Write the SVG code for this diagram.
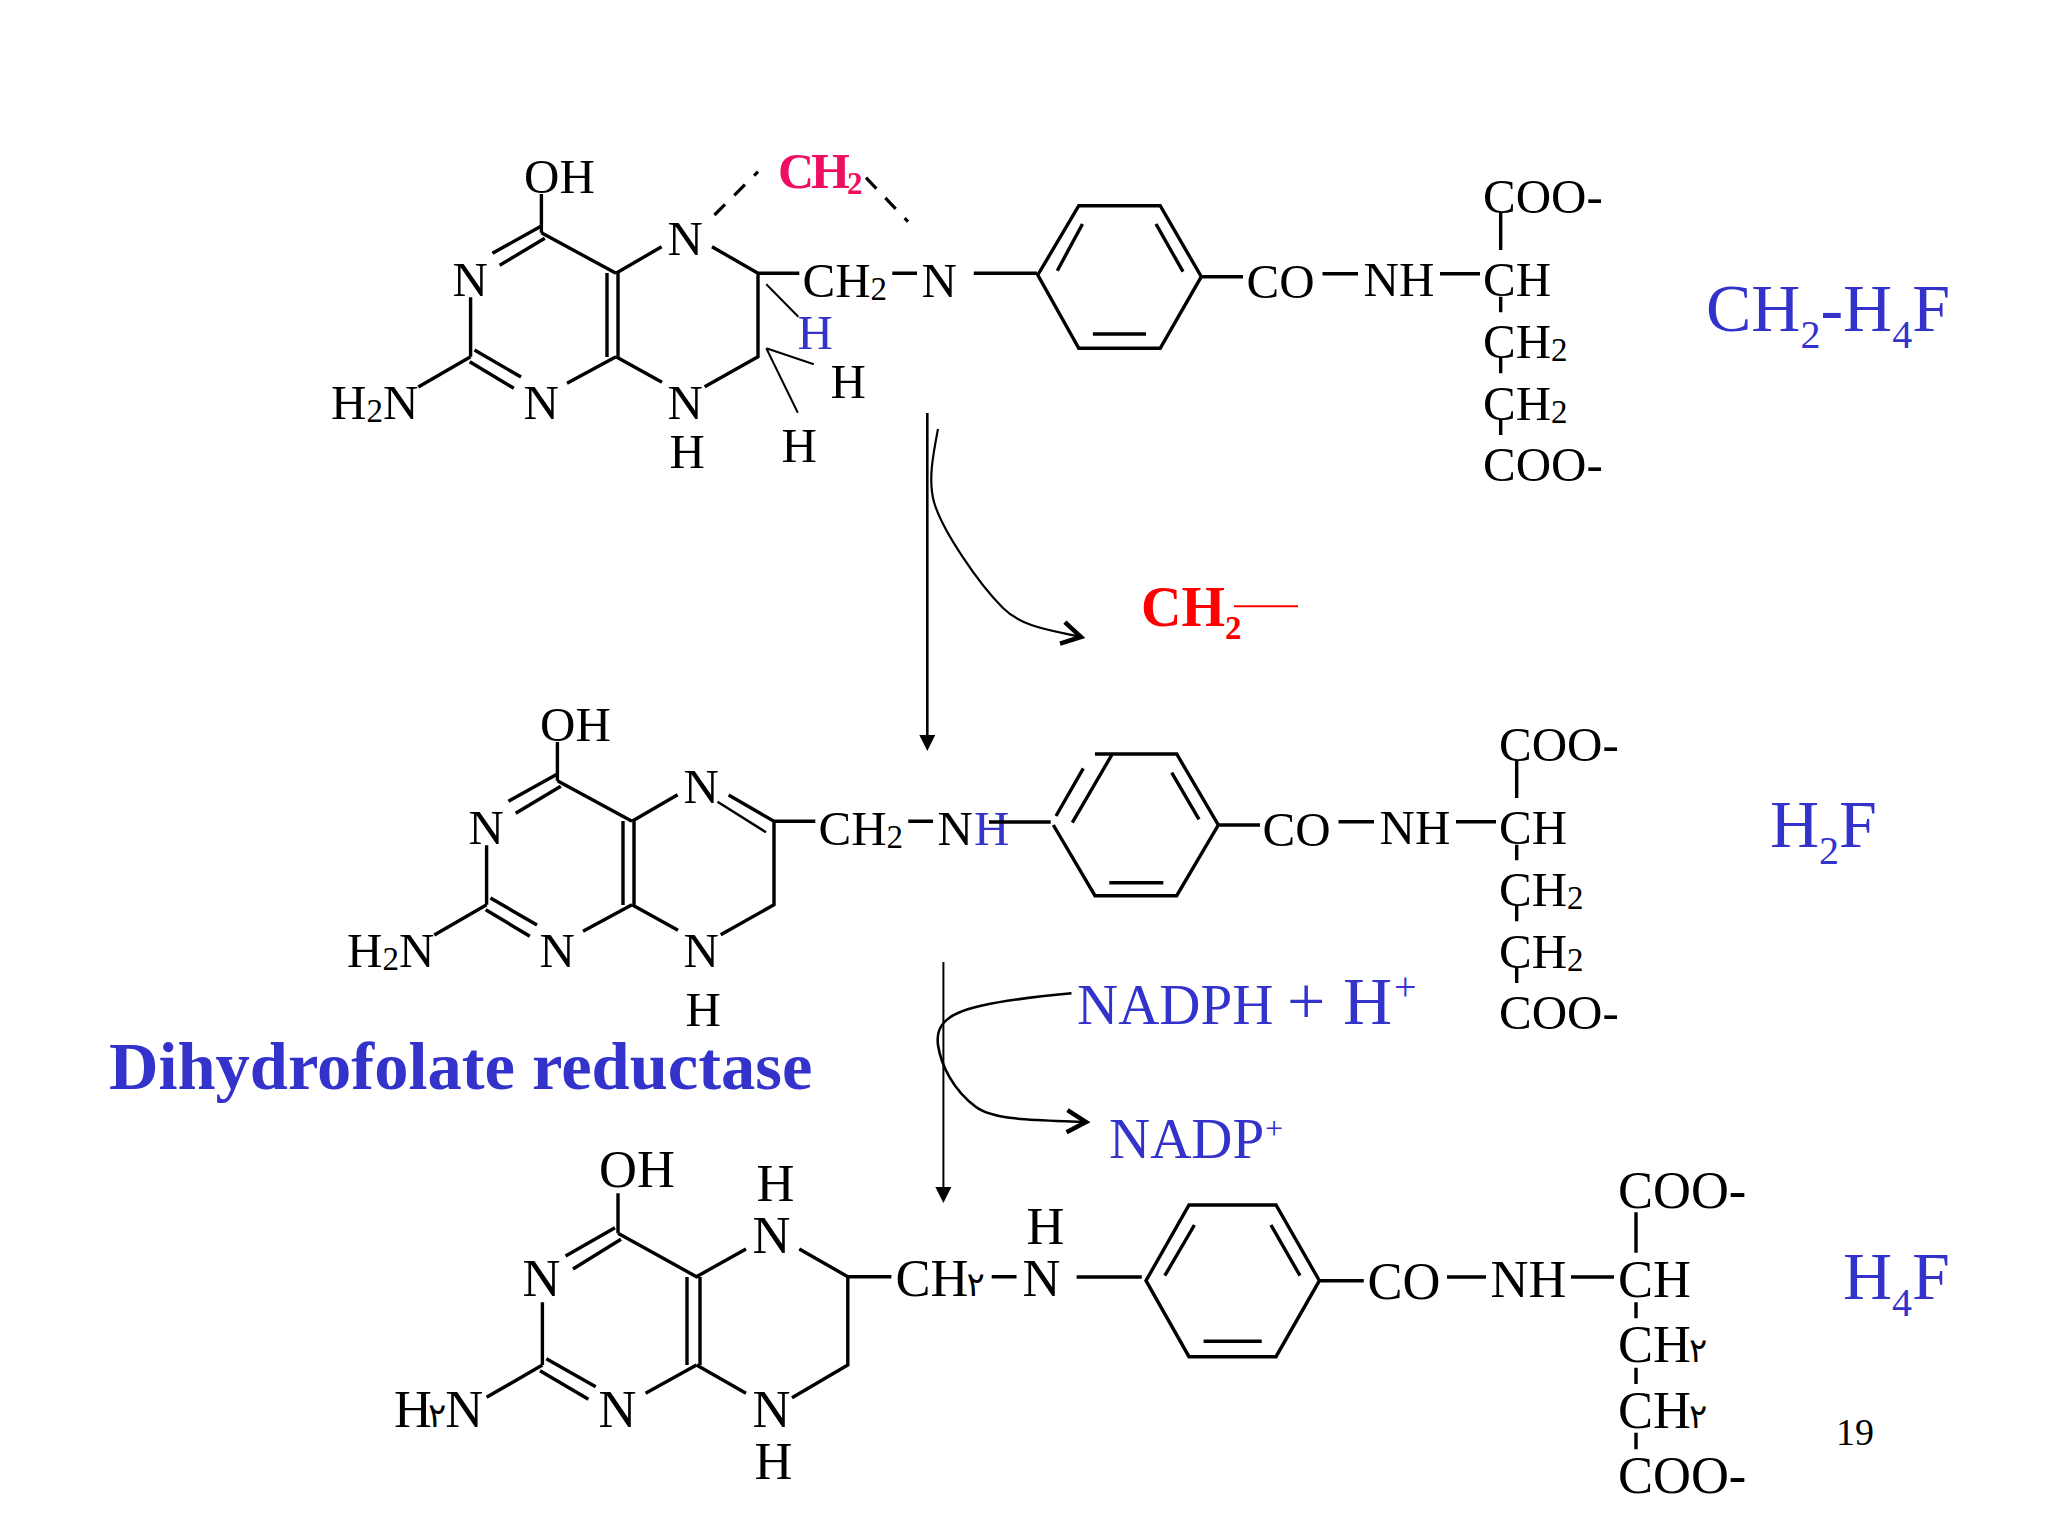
<svg xmlns="http://www.w3.org/2000/svg" width="2048" height="1536" viewBox="0 0 2048 1536">
<style>
text{font-family:"Liberation Serif","Times New Roman",serif;font-size:49px;fill:#000;direction:ltr}
.l{font-size:52.5px}
.s{font-size:33px}
.a{font-size:34px;font-family:"DejaVu Sans",sans-serif}
.bl{fill:#3333cc}
.big{font-size:68px}
.s40{font-size:40px}
.bold{font-weight:bold}
.b{fill:none;stroke:#000;stroke-width:3.4;stroke-linecap:butt;stroke-linejoin:miter}
.th{fill:none;stroke:#000;stroke-width:2}
.dash{fill:none;stroke:#000;stroke-width:3.2;stroke-dasharray:15 13}
.arr{fill:none;stroke:#000;stroke-width:2.6}
</style>
<defs>
<marker id="tri" markerUnits="userSpaceOnUse" markerWidth="16" markerHeight="16" refX="0" refY="8" orient="auto" viewBox="0 0 16 16"><path d="M0 0L16 8L0 16z" fill="#000"/></marker>
<marker id="open" markerUnits="userSpaceOnUse" markerWidth="32" markerHeight="32" refX="28" refY="16" orient="auto" viewBox="0 0 32 32"><path d="M9 5L28 16L9 27" fill="none" stroke="#000" stroke-width="4.5"/></marker>
</defs>
<rect width="2048" height="1536" fill="#fff"/>

<g id="mol1-CH2-H4F">
<path class="b" d="M541.4 194V232.7M541.4 226L492.4 253.3M544.8 238.3L499.7 265.3M541.4 232.7L616 273.3M616 273.3L661.6 246.7M712 246.7L758 273.3V356.7L704.7 386.7M616 356.7L662 382.3M616 356.7L567 383.3M618 273V357M607 273V357M470.6 297.3V356.7M474.5 350L521 377M469.7 361.7L513.8 388.3M470.6 356.7L418.3 387M758 273.3H799.3M892.3 273.3H917M973.8 273.3H1037"/>
<path class="b" d="M1037.8 275L1078.8 205.7H1160.2L1201.3 276.7L1160.2 348.3H1078.8ZM1156 224L1183 271.7M1082.5 224L1057.3 270.7M1092.9 334H1146M1201.3 276.7H1243M1322.5 273.7H1358M1440 273.7H1480M1500.7 212.3V250M1500.7 296.7V312.3M1500.7 356.7V373.3M1500.7 419.3V435"/>
<path class="th" d="M766.3 284.3L798.3 316.7M766.3 348.3L813.8 364.3M766.3 348.3L797.8 412.7"/>
<path class="dash" d="M714.4 215L758 171.7M866 177.7L908 221.7"/>
<text x="524" y="193">OH</text>
<text x="452.5" y="296">N</text>
<text x="331" y="419">H<tspan class="s" dy="3">2</tspan><tspan dy="-3">N</tspan></text>
<text x="523.5" y="419">N</text>
<text x="667.5" y="419">N</text>
<text x="669.5" y="468">H</text>
<text x="667.5" y="255">N</text>
<text x="802.5" y="297">CH<tspan class="s" dy="3">2</tspan></text>
<text x="921.5" y="297">N</text>
<text class="bl" x="797.5" y="349">H</text>
<text x="830.5" y="398">H</text>
<text x="781.5" y="462">H</text>
<text class="bold" x="778" y="188" style="fill:#ee0f62;font-size:50px;letter-spacing:-3px">CH<tspan style="font-size:31px;letter-spacing:0" dy="6">2</tspan></text>
<text x="1246.5" y="298">CO</text>
<text x="1363.5" y="296">NH</text>
<text x="1483" y="296">CH</text>
<text x="1483" y="213">COO-</text>
<text x="1483" y="358">CH<tspan class="s" dy="3">2</tspan></text>
<text x="1483" y="420">CH<tspan class="s" dy="3">2</tspan></text>
<text x="1483" y="481">COO-</text>
<text class="big bl" x="1706" y="331">CH<tspan class="s40" dy="17">2</tspan><tspan dy="-17">-H</tspan><tspan class="s40" dy="17">4</tspan><tspan dy="-17">F</tspan></text>
</g>

<g id="mol2-H2F">
<g transform="translate(16 548)">
<path class="b" d="M541.4 194V232.7M541.4 226L492.4 253.3M544.8 238.3L499.7 265.3M541.4 232.7L616 273.3M616 273.3L661.6 246.7M712.6 247L758 273.3V356.7L704.7 386.7M616 356.7L662 382.3M616 356.7L567 383.3M618 273V357M607 273V357M470.6 297.3V356.7M474.5 350L521 377M469.7 361.7L513.8 388.3M470.6 356.7L418.3 387M758 273.3H799.3M892.3 273.3H917"/>
<path class="th" style="stroke-width:2.4" d="M701.5 253.7L750 284.3"/>
<text x="524" y="193">OH</text>
<text x="452.5" y="296">N</text>
<text x="331" y="419">H<tspan class="s" dy="3">2</tspan><tspan dy="-3">N</tspan></text>
<text x="523.5" y="419">N</text>
<text x="667.5" y="419">N</text>
<text x="669.5" y="478">H</text>
<text x="667.5" y="255">N</text>
<text x="802.5" y="297">CH<tspan class="s" dy="3">2</tspan></text>
<text x="921.5" y="297">N</text>
<text class="bl" x="958" y="297">H</text>
<text x="1246.5" y="298">CO</text>
<text x="1363.5" y="296">NH</text>
<text x="1483" y="296">CH</text>
<text x="1483" y="213">COO-</text>
<text x="1483" y="358">CH<tspan class="s" dy="3">2</tspan></text>
<text x="1483" y="420">CH<tspan class="s" dy="3">2</tspan></text>
<text x="1483" y="481">COO-</text>
<path class="b" d="M1322.5 273.7H1358M1440 273.7H1480M1500.7 212.3V250M1500.7 296.7V312.3M1500.7 356.7V373.3M1500.7 419.3V435"/>
</g>
<path class="b" d="M989 822H1050.7M1095 754H1176.7L1218.3 825L1176.7 895.7H1095L1053.3 825M1072.3 822.7L1112.7 753.3M1056 816L1083.3 768.3M1171.7 772.7L1199 819.3M1109.3 882.7H1163.3M1218.3 825H1260"/>
<text class="big bl" x="1770" y="847">H<tspan class="s40" dy="17">2</tspan><tspan dy="-17">F</tspan></text>
</g>

<g id="mol3-H4F">
<path class="b" d="M618 1193.3V1233.3M615 1227.7L565.6 1256M621 1239.3L573 1269M618 1233.3L696.5 1276.7L746 1249M799.3 1249L847.8 1276.7V1365L792 1397.7M696.5 1365L746 1393.3M696.5 1365L645.6 1393.3M700 1277V1365M687 1277V1365M542.4 1302.3V1365M546.3 1358.7L595.7 1386.7M540 1370.7L588.4 1399.3M542.4 1365L486.6 1397.3M847.8 1276.7H891.4M991.7 1276.7H1016.5M1076.6 1277H1141.8"/>
<path class="b" d="M1146 1280.7L1189 1205H1276L1319.4 1280.7L1276 1356.7H1189ZM1194.4 1225L1164.8 1275.7M1271 1225L1300 1275.7M1203.6 1341.3H1261.7M1319.4 1280.7H1363.8M1447 1277H1486M1571 1277H1614M1636 1212.3V1252.7M1636 1302.3V1318.3M1636 1367.7V1384M1636 1432.7V1449.3"/>
<text class="l" x="599" y="1187">OH</text>
<text class="l" x="522.5" y="1296">N</text>
<text class="l" x="394" y="1427">H<tspan class="a" dx="-4">٢</tspan><tspan dx="-1">N</tspan></text>
<text class="l" x="598.5" y="1427">N</text>
<text class="l" x="752.5" y="1427">N</text>
<text class="l" x="754.5" y="1479">H</text>
<text class="l" x="752.5" y="1253">N</text>
<text class="l" x="756.5" y="1201">H</text>
<text class="l" x="895.5" y="1296">CH<tspan class="a" dx="-2">٢</tspan></text>
<text class="l" x="1022.5" y="1296">N</text>
<text class="l" x="1026.5" y="1244">H</text>
<text class="l" x="1367.5" y="1299">CO</text>
<text class="l" x="1490.5" y="1297">NH</text>
<text class="l" x="1618" y="1297">CH</text>
<text class="l" x="1618" y="1208">COO-</text>
<text class="l" x="1618" y="1362">CH<tspan class="a" dx="-2">٢</tspan></text>
<text class="l" x="1618" y="1428">CH<tspan class="a" dx="-2">٢</tspan></text>
<text class="l" x="1618" y="1493">COO-</text>
<text class="big bl" x="1843" y="1299">H<tspan class="s40" dy="17">4</tspan><tspan dy="-17">F</tspan></text>
</g>

<g id="connectors">
<path class="arr" marker-end="url(#tri)" d="M927.3 413V735"/>
<path class="th" style="stroke-width:2.2" marker-end="url(#open)" d="M938 429C933 455 928 480 934 502C942 530 978 583 1003 608C1022 627 1050 630 1081 637"/>
<path class="arr" style="stroke-width:2" marker-end="url(#tri)" d="M943.4 962V1187"/>
<path class="th" style="stroke-width:2.6" marker-end="url(#open)" d="M1071.5 993.3C1020 998 975 1005 958 1013C942 1020 936 1030 938 1045C941 1065 953 1090 976 1107C995 1121 1040 1120 1086 1122"/>
</g>

<g id="labels">
<text class="bold" x="1141" y="626" style="fill:#f00;font-size:56px">CH<tspan class="s" dy="13">2</tspan></text>
<path d="M1234 606.3H1298" stroke="#f00" stroke-width="2" fill="none"/>
<text class="bl" x="1077" y="1024" style="font-size:57px">NADPH</text>
<text class="bl big" x="1287" y="1024">+</text>
<text class="bl big" x="1343" y="1024">H</text>
<text class="bl" x="1394" y="1000" style="font-size:40px">+</text>
<text class="bl" x="1109" y="1158" style="font-size:57px">NADP</text>
<text class="bl" x="1265" y="1139" style="font-size:32px">+</text>
<text class="bl bold big" x="109" y="1089" style="font-size:68.5px">Dihydrofolate reductase</text>
<text x="1836" y="1445" style="font-size:38px">19</text>
</g>
</svg>
